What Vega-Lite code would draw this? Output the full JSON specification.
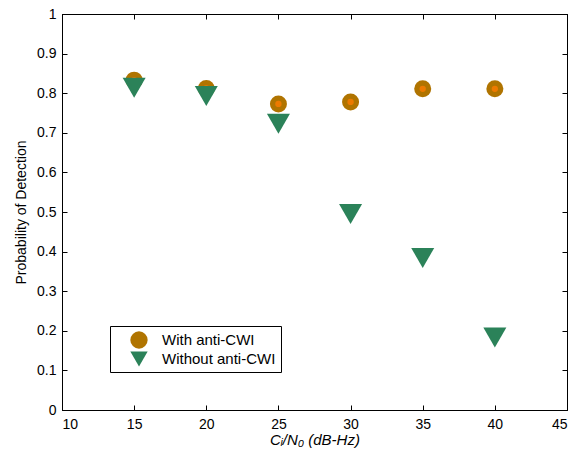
{
  "$schema": "https://vega.github.io/schema/vega-lite/v6.json",
  "width": 505,
  "height": 396,
  "autosize": "none",
  "padding": {"left": 62, "top": 14, "right": 16, "bottom": 46},
  "background": "white",
  "config": {
    "view": {"stroke": "black", "strokeWidth": 1},
    "font": "Liberation Sans",
    "axis": {
      "grid": false,
      "domainColor": "black",
      "tickColor": "black",
      "labelColor": "black",
      "titleColor": "black",
      "labelFont": "Liberation Sans",
      "titleFont": "Liberation Sans",
      "labelFontSize": 14,
      "titleFontSize": 14,
      "titleFontWeight": "normal",
      "tickSize": -5
    }
  },
  "data": {
    "values": [
      {"cn": 15, "pd": 0.833, "series": "With anti-CWI"},
      {"cn": 20, "pd": 0.812, "series": "With anti-CWI"},
      {"cn": 25, "pd": 0.773, "series": "With anti-CWI"},
      {"cn": 30, "pd": 0.778, "series": "With anti-CWI"},
      {"cn": 35, "pd": 0.811, "series": "With anti-CWI"},
      {"cn": 40, "pd": 0.811, "series": "With anti-CWI"},
      {"cn": 15, "pd": 0.814, "series": "Without anti-CWI"},
      {"cn": 20, "pd": 0.793, "series": "Without anti-CWI"},
      {"cn": 25, "pd": 0.723, "series": "Without anti-CWI"},
      {"cn": 30, "pd": 0.495, "series": "Without anti-CWI"},
      {"cn": 35, "pd": 0.384, "series": "Without anti-CWI"},
      {"cn": 40, "pd": 0.183, "series": "Without anti-CWI"}
    ]
  },
  "layer": [
    {
      "transform": [{"filter": "datum.series === 'With anti-CWI'"}],
      "mark": {"type": "point", "filled": true, "opacity": 1, "size": 289},
      "encoding": {
        "x": {"field": "cn", "type": "quantitative",
              "scale": {"domain": [10, 45], "nice": false, "zero": false},
              "axis": {"orient": "bottom", "values": [10, 15, 20, 25, 30, 35, 40, 45], "labelPadding": 12,
                       "title": "Cᵢ/N₀ (dB-Hz)", "titleFontStyle": "italic", "titleFontSize": 15, "titlePadding": 1}},
        "y": {"field": "pd", "type": "quantitative",
              "scale": {"domain": [0, 1], "nice": false},
              "axis": {"orient": "left", "values": [0, 0.1, 0.2, 0.3, 0.4, 0.5, 0.6, 0.7, 0.8, 0.9, 1], "format": "~g",
                       "labelPadding": 11, "title": "Probability of Detection", "titlePadding": 8}},
        "color": {"field": "series", "type": "nominal",
                  "scale": {"domain": ["With anti-CWI", "Without anti-CWI"], "range": ["#b07400", "#2b8259"]},
                  "legend": {"title": null, "orient": "none", "legendX": 48, "legendY": 312,
                             "strokeColor": "black", "fillColor": "white", "padding": 5,
                             "labelFontSize": 15, "labelColor": "black", "symbolSize": 300, "symbolOpacity": 1,
                             "rowPadding": 1, "symbolOffset": 15, "labelOffset": 14, "symbolStrokeWidth": 0}},
        "shape": {"field": "series", "type": "nominal",
                  "scale": {"domain": ["With anti-CWI", "Without anti-CWI"], "range": ["circle", "triangle-down"]}}
      }
    },
    {
      "transform": [{"filter": "datum.series === 'With anti-CWI'"}],
      "mark": {"type": "point", "filled": true, "opacity": 1, "size": 40, "shape": "circle", "color": "#ec7a00"},
      "encoding": {
        "x": {"field": "cn", "type": "quantitative", "axis": null},
        "y": {"field": "pd", "type": "quantitative", "axis": null}
      }
    },
    {
      "transform": [{"filter": "datum.series === 'Without anti-CWI'"}],
      "mark": {"type": "point", "filled": true, "opacity": 1, "size": 530},
      "encoding": {
        "x": {"field": "cn", "type": "quantitative",
              "axis": {"orient": "top", "values": [10, 15, 20, 25, 30, 35, 40, 45], "labels": false, "title": null}},
        "y": {"field": "pd", "type": "quantitative",
              "axis": {"orient": "right", "values": [0, 0.1, 0.2, 0.3, 0.4, 0.5, 0.6, 0.7, 0.8, 0.9, 1], "labels": false, "title": null}},
        "color": {"field": "series", "type": "nominal"},
        "shape": {"field": "series", "type": "nominal"}
      }
    }
  ],
  "resolve": {"axis": {"x": "independent", "y": "independent"}}
}
